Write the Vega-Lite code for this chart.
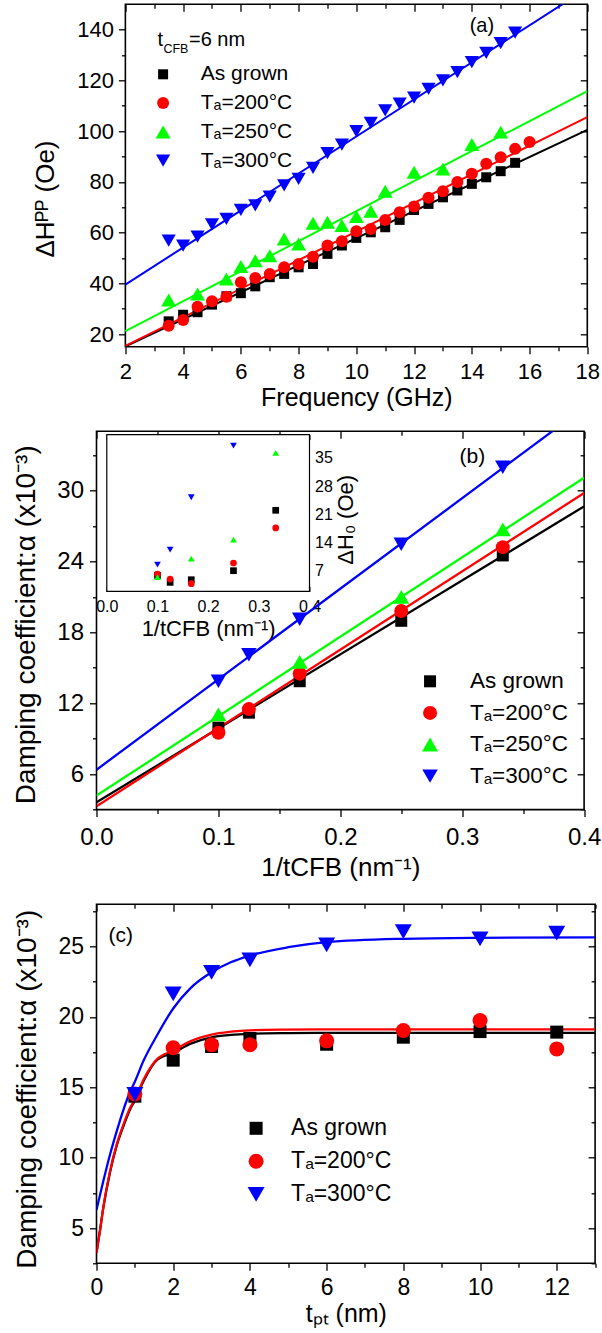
{
  "$schema": "https://vega.github.io/schema/vega-lite/v6.json",
  "padding": {"left": 11.5, "top": 3.3, "right": 0, "bottom": 0},
  "background": "white",
  "spacing": 18,
  "config": {
    "font": "Liberation Sans",
    "view": {"stroke": "black", "strokeWidth": 1.6},
    "axis": {"domain": false, "grid": false, "labelFlush": false, "labelOverlap": false, "tickColor": "black", "tickWidth": 1.3, "labelColor": "black", "titleColor": "black", "titleFontWeight": "normal", "labelFont": "Liberation Sans", "titleFont": "Liberation Sans", "zindex": 1},
    "legend": {"labelFont": "Liberation Sans", "labelColor": "black", "symbolStrokeWidth": 0, "padding": 0, "orient": "none"},
    "text": {"font": "Liberation Sans", "color": "black"}
  },
  "datasets": {
    "a_pts": [
      {"series": "As grown", "freq": 3.5, "dH": 25.0}, {"series": "As grown", "freq": 4, "dH": 27.6}, {"series": "As grown", "freq": 4.5, "dH": 28.6}, {"series": "As grown", "freq": 5, "dH": 31.6}, {"series": "As grown", "freq": 5.5, "dH": 34.9}, {"series": "As grown", "freq": 6, "dH": 36.1}, {"series": "As grown", "freq": 6.5, "dH": 38.8}, {"series": "As grown", "freq": 7, "dH": 42.4}, {"series": "As grown", "freq": 7.5, "dH": 43.7}, {"series": "As grown", "freq": 8, "dH": 46.3}, {"series": "As grown", "freq": 8.5, "dH": 47.6}, {"series": "As grown", "freq": 9, "dH": 51.6}, {"series": "As grown", "freq": 9.5, "dH": 54.9}, {"series": "As grown", "freq": 10, "dH": 57.9}, {"series": "As grown", "freq": 10.5, "dH": 60.1}, {"series": "As grown", "freq": 11, "dH": 62.1}, {"series": "As grown", "freq": 11.5, "dH": 65.0}, {"series": "As grown", "freq": 12, "dH": 68.9}, {"series": "As grown", "freq": 12.5, "dH": 71.3}, {"series": "As grown", "freq": 13, "dH": 73.9}, {"series": "As grown", "freq": 13.5, "dH": 76.6}, {"series": "As grown", "freq": 14, "dH": 79.2}, {"series": "As grown", "freq": 14.5, "dH": 81.8}, {"series": "As grown", "freq": 15, "dH": 84.2}, {"series": "As grown", "freq": 15.5, "dH": 87.5},
      {"series": "Tₐ=200°C", "freq": 3.5, "dH": 23.3}, {"series": "Tₐ=200°C", "freq": 4, "dH": 25.5}, {"series": "Tₐ=200°C", "freq": 4.5, "dH": 30.8}, {"series": "Tₐ=200°C", "freq": 5, "dH": 32.9}, {"series": "Tₐ=200°C", "freq": 5.5, "dH": 34.7}, {"series": "Tₐ=200°C", "freq": 6, "dH": 40.4}, {"series": "Tₐ=200°C", "freq": 6.5, "dH": 42.1}, {"series": "Tₐ=200°C", "freq": 7, "dH": 43.7}, {"series": "Tₐ=200°C", "freq": 7.5, "dH": 46.3}, {"series": "Tₐ=200°C", "freq": 8, "dH": 47.6}, {"series": "Tₐ=200°C", "freq": 8.5, "dH": 50.5}, {"series": "Tₐ=200°C", "freq": 9, "dH": 54.9}, {"series": "Tₐ=200°C", "freq": 9.5, "dH": 56.6}, {"series": "Tₐ=200°C", "freq": 10, "dH": 60.5}, {"series": "Tₐ=200°C", "freq": 10.5, "dH": 61.4}, {"series": "Tₐ=200°C", "freq": 11, "dH": 65.0}, {"series": "Tₐ=200°C", "freq": 11.5, "dH": 68.0}, {"series": "Tₐ=200°C", "freq": 12, "dH": 70.3}, {"series": "Tₐ=200°C", "freq": 12.5, "dH": 73.7}, {"series": "Tₐ=200°C", "freq": 13, "dH": 76.3}, {"series": "Tₐ=200°C", "freq": 13.5, "dH": 79.9}, {"series": "Tₐ=200°C", "freq": 14, "dH": 83.2}, {"series": "Tₐ=200°C", "freq": 14.5, "dH": 87.1}, {"series": "Tₐ=200°C", "freq": 15, "dH": 89.7}, {"series": "Tₐ=200°C", "freq": 15.5, "dH": 93.0}, {"series": "Tₐ=200°C", "freq": 16, "dH": 95.7},
      {"series": "Tₐ=250°C", "freq": 3.5, "dH": 33.4}, {"series": "Tₐ=250°C", "freq": 4.5, "dH": 35.8}, {"series": "Tₐ=250°C", "freq": 5.5, "dH": 41.7}, {"series": "Tₐ=250°C", "freq": 6, "dH": 46.6}, {"series": "Tₐ=250°C", "freq": 6.5, "dH": 48.9}, {"series": "Tₐ=250°C", "freq": 7, "dH": 50.9}, {"series": "Tₐ=250°C", "freq": 7.5, "dH": 57.5}, {"series": "Tₐ=250°C", "freq": 8, "dH": 55.5}, {"series": "Tₐ=250°C", "freq": 8.5, "dH": 63.7}, {"series": "Tₐ=250°C", "freq": 9, "dH": 64.1}, {"series": "Tₐ=250°C", "freq": 9.5, "dH": 62.8}, {"series": "Tₐ=250°C", "freq": 10, "dH": 66.3}, {"series": "Tₐ=250°C", "freq": 10.5, "dH": 68.4}, {"series": "Tₐ=250°C", "freq": 11, "dH": 76.3}, {"series": "Tₐ=250°C", "freq": 12, "dH": 83.8}, {"series": "Tₐ=250°C", "freq": 13, "dH": 85.1}, {"series": "Tₐ=250°C", "freq": 14, "dH": 94.7}, {"series": "Tₐ=250°C", "freq": 15, "dH": 99.6},
      {"series": "Tₐ=300°C", "freq": 3.5, "dH": 56.8}, {"series": "Tₐ=300°C", "freq": 4, "dH": 54.9}, {"series": "Tₐ=300°C", "freq": 4.5, "dH": 58.4}, {"series": "Tₐ=300°C", "freq": 5, "dH": 63.2}, {"series": "Tₐ=300°C", "freq": 5.5, "dH": 65.4}, {"series": "Tₐ=300°C", "freq": 6, "dH": 68.9}, {"series": "Tₐ=300°C", "freq": 6.5, "dH": 70.7}, {"series": "Tₐ=300°C", "freq": 7, "dH": 74.2}, {"series": "Tₐ=300°C", "freq": 7.5, "dH": 78.6}, {"series": "Tₐ=300°C", "freq": 8, "dH": 81.2}, {"series": "Tₐ=300°C", "freq": 8.5, "dH": 85.5}, {"series": "Tₐ=300°C", "freq": 9, "dH": 91.3}, {"series": "Tₐ=300°C", "freq": 9.5, "dH": 94.7}, {"series": "Tₐ=300°C", "freq": 10, "dH": 100.0}, {"series": "Tₐ=300°C", "freq": 10.5, "dH": 103.2}, {"series": "Tₐ=300°C", "freq": 11, "dH": 108.2}, {"series": "Tₐ=300°C", "freq": 11.5, "dH": 110.8}, {"series": "Tₐ=300°C", "freq": 12, "dH": 113.2}, {"series": "Tₐ=300°C", "freq": 12.5, "dH": 116.7}, {"series": "Tₐ=300°C", "freq": 13, "dH": 120.0}, {"series": "Tₐ=300°C", "freq": 13.5, "dH": 123.3}, {"series": "Tₐ=300°C", "freq": 14, "dH": 127.2}, {"series": "Tₐ=300°C", "freq": 14.5, "dH": 130.8}, {"series": "Tₐ=300°C", "freq": 15, "dH": 134.7}, {"series": "Tₐ=300°C", "freq": 15.5, "dH": 138.8}
    ],
    "a_fit": [
      {"series": "As grown", "freq": 2, "dH": 15.1}, {"series": "As grown", "freq": 18, "dH": 100.5},
      {"series": "Tₐ=200°C", "freq": 2, "dH": 15.3}, {"series": "Tₐ=200°C", "freq": 18, "dH": 105.5},
      {"series": "Tₐ=250°C", "freq": 2, "dH": 21.1}, {"series": "Tₐ=250°C", "freq": 18, "dH": 115.8},
      {"series": "Tₐ=300°C", "freq": 2, "dH": 39.5}, {"series": "Tₐ=300°C", "freq": 18, "dH": 156.3}
    ],
    "a_note": [{"base": "t", "sub": "CFB", "rest": "=6 nm", "freq": 3.11, "dH": 133.6}],
    "a_label": [{"label": "(a)", "freq": 14.35, "dH": 141.4}],
    "b_pts": [
      {"series": "As grown", "inv_t": 0.1, "alpha": 9.93}, {"series": "As grown", "inv_t": 0.125, "alpha": 11.2}, {"series": "As grown", "inv_t": 0.1667, "alpha": 13.86}, {"series": "As grown", "inv_t": 0.25, "alpha": 18.97}, {"series": "As grown", "inv_t": 0.3333, "alpha": 24.5},
      {"series": "Tₐ=200°C", "inv_t": 0.1, "alpha": 9.5}, {"series": "Tₐ=200°C", "inv_t": 0.125, "alpha": 11.5}, {"series": "Tₐ=200°C", "inv_t": 0.1667, "alpha": 14.5}, {"series": "Tₐ=200°C", "inv_t": 0.25, "alpha": 19.8}, {"series": "Tₐ=200°C", "inv_t": 0.3333, "alpha": 25.2},
      {"series": "Tₐ=250°C", "inv_t": 0.1, "alpha": 11.05}, {"series": "Tₐ=250°C", "inv_t": 0.1667, "alpha": 15.5}, {"series": "Tₐ=250°C", "inv_t": 0.25, "alpha": 21.0}, {"series": "Tₐ=250°C", "inv_t": 0.3333, "alpha": 26.7},
      {"series": "Tₐ=300°C", "inv_t": 0.1, "alpha": 13.86}, {"series": "Tₐ=300°C", "inv_t": 0.125, "alpha": 16.1}, {"series": "Tₐ=300°C", "inv_t": 0.1667, "alpha": 19.1}, {"series": "Tₐ=300°C", "inv_t": 0.25, "alpha": 25.45}, {"series": "Tₐ=300°C", "inv_t": 0.3333, "alpha": 31.96}
    ],
    "b_fit": [
      {"series": "As grown", "inv_t": 0, "alpha": 3.61}, {"series": "As grown", "inv_t": 0.4, "alpha": 28.65},
      {"series": "Tₐ=200°C", "inv_t": 0, "alpha": 3.28}, {"series": "Tₐ=200°C", "inv_t": 0.4, "alpha": 29.78},
      {"series": "Tₐ=250°C", "inv_t": 0, "alpha": 4.18}, {"series": "Tₐ=250°C", "inv_t": 0.4, "alpha": 31.07},
      {"series": "Tₐ=300°C", "inv_t": 0, "alpha": 6.37}, {"series": "Tₐ=300°C", "inv_t": 0.4, "alpha": 37.0}
    ],
    "b_inset": [
      {"series": "As grown", "inv_t": 0.1, "dH0": 5.76}, {"series": "As grown", "inv_t": 0.125, "dH0": 4.02}, {"series": "As grown", "inv_t": 0.1667, "dH0": 4.68}, {"series": "As grown", "inv_t": 0.25, "dH0": 6.93}, {"series": "As grown", "inv_t": 0.3333, "dH0": 21.96},
      {"series": "Tₐ=200°C", "inv_t": 0.1, "dH0": 6.1}, {"series": "Tₐ=200°C", "inv_t": 0.125, "dH0": 4.85}, {"series": "Tₐ=200°C", "inv_t": 0.1667, "dH0": 3.69}, {"series": "Tₐ=200°C", "inv_t": 0.25, "dH0": 8.84}, {"series": "Tₐ=200°C", "inv_t": 0.3333, "dH0": 17.56},
      {"series": "Tₐ=250°C", "inv_t": 0.1, "dH0": 5.35}, {"series": "Tₐ=250°C", "inv_t": 0.1667, "dH0": 9.92}, {"series": "Tₐ=250°C", "inv_t": 0.25, "dH0": 14.65}, {"series": "Tₐ=250°C", "inv_t": 0.3333, "dH0": 36.25},
      {"series": "Tₐ=300°C", "inv_t": 0.1, "dH0": 8.42}, {"series": "Tₐ=300°C", "inv_t": 0.125, "dH0": 12.16}, {"series": "Tₐ=300°C", "inv_t": 0.1667, "dH0": 25.2}, {"series": "Tₐ=300°C", "inv_t": 0.25, "dH0": 38.07}
    ],
    "b_label": [{"label": "(b)", "inv_t": 0.3083, "alpha": 32.82}],
    "c_pts": [
      {"series": "As grown", "t_pt": 1, "alpha": 14.37}, {"series": "As grown", "t_pt": 2, "alpha": 16.93}, {"series": "As grown", "t_pt": 3, "alpha": 17.9}, {"series": "As grown", "t_pt": 4, "alpha": 18.47}, {"series": "As grown", "t_pt": 6, "alpha": 18.06}, {"series": "As grown", "t_pt": 8, "alpha": 18.56}, {"series": "As grown", "t_pt": 10, "alpha": 18.96}, {"series": "As grown", "t_pt": 12, "alpha": 18.92},
      {"series": "Tₐ=200°C", "t_pt": 1, "alpha": 14.53}, {"series": "Tₐ=200°C", "t_pt": 2, "alpha": 17.81}, {"series": "Tₐ=200°C", "t_pt": 3, "alpha": 18.02}, {"series": "Tₐ=200°C", "t_pt": 4, "alpha": 18.02}, {"series": "Tₐ=200°C", "t_pt": 6, "alpha": 18.3}, {"series": "Tₐ=200°C", "t_pt": 8, "alpha": 19.04}, {"series": "Tₐ=200°C", "t_pt": 10, "alpha": 19.75}, {"series": "Tₐ=200°C", "t_pt": 12, "alpha": 17.73},
      {"series": "Tₐ=300°C", "t_pt": 1, "alpha": 14.5}, {"series": "Tₐ=300°C", "t_pt": 2, "alpha": 21.63}, {"series": "Tₐ=300°C", "t_pt": 3, "alpha": 23.17}, {"series": "Tₐ=300°C", "t_pt": 4, "alpha": 24.05}, {"series": "Tₐ=300°C", "t_pt": 6, "alpha": 25.12}, {"series": "Tₐ=300°C", "t_pt": 8, "alpha": 26.06}, {"series": "Tₐ=300°C", "t_pt": 10, "alpha": 25.54}, {"series": "Tₐ=300°C", "t_pt": 12, "alpha": 25.95}
    ],
    "c_fit": [
      {"series": "As grown", "t_pt": 0, "alpha": 3.3}, {"series": "As grown", "t_pt": 0.088, "alpha": 4.8}, {"series": "As grown", "t_pt": 0.175, "alpha": 6.4}, {"series": "As grown", "t_pt": 0.351, "alpha": 8.95}, {"series": "As grown", "t_pt": 0.526, "alpha": 10.85}, {"series": "As grown", "t_pt": 0.702, "alpha": 12.25}, {"series": "As grown", "t_pt": 0.877, "alpha": 13.45}, {"series": "As grown", "t_pt": 1, "alpha": 14.05}, {"series": "As grown", "t_pt": 1.228, "alpha": 15.45}, {"series": "As grown", "t_pt": 1.579, "alpha": 16.95}, {"series": "As grown", "t_pt": 2, "alpha": 17.45}, {"series": "As grown", "t_pt": 2.456, "alpha": 18.1}, {"series": "As grown", "t_pt": 3, "alpha": 18.55}, {"series": "As grown", "t_pt": 3.5, "alpha": 18.72}, {"series": "As grown", "t_pt": 4, "alpha": 18.8}, {"series": "As grown", "t_pt": 5, "alpha": 18.85}, {"series": "As grown", "t_pt": 6, "alpha": 18.87}, {"series": "As grown", "t_pt": 8, "alpha": 18.87}, {"series": "As grown", "t_pt": 13, "alpha": 18.87},
      {"series": "Tₐ=200°C", "t_pt": 0, "alpha": 3.21}, {"series": "Tₐ=200°C", "t_pt": 0.088, "alpha": 4.75}, {"series": "Tₐ=200°C", "t_pt": 0.175, "alpha": 6.42}, {"series": "Tₐ=200°C", "t_pt": 0.351, "alpha": 9.03}, {"series": "Tₐ=200°C", "t_pt": 0.526, "alpha": 10.93}, {"series": "Tₐ=200°C", "t_pt": 0.702, "alpha": 12.35}, {"series": "Tₐ=200°C", "t_pt": 0.877, "alpha": 13.54}, {"series": "Tₐ=200°C", "t_pt": 1, "alpha": 14.13}, {"series": "Tₐ=200°C", "t_pt": 1.228, "alpha": 15.55}, {"series": "Tₐ=200°C", "t_pt": 1.579, "alpha": 17.0}, {"series": "Tₐ=200°C", "t_pt": 2, "alpha": 17.6}, {"series": "Tₐ=200°C", "t_pt": 2.456, "alpha": 18.28}, {"series": "Tₐ=200°C", "t_pt": 3, "alpha": 18.75}, {"series": "Tₐ=200°C", "t_pt": 3.5, "alpha": 18.95}, {"series": "Tₐ=200°C", "t_pt": 4, "alpha": 19.05}, {"series": "Tₐ=200°C", "t_pt": 5, "alpha": 19.1}, {"series": "Tₐ=200°C", "t_pt": 6, "alpha": 19.12}, {"series": "Tₐ=200°C", "t_pt": 8, "alpha": 19.12}, {"series": "Tₐ=200°C", "t_pt": 13, "alpha": 19.12},
      {"series": "Tₐ=300°C", "t_pt": 0, "alpha": 6.3}, {"series": "Tₐ=300°C", "t_pt": 0.175, "alpha": 8.31}, {"series": "Tₐ=300°C", "t_pt": 0.351, "alpha": 10.21}, {"series": "Tₐ=300°C", "t_pt": 0.526, "alpha": 11.87}, {"series": "Tₐ=300°C", "t_pt": 0.702, "alpha": 13.4}, {"series": "Tₐ=300°C", "t_pt": 0.877, "alpha": 14.7}, {"series": "Tₐ=300°C", "t_pt": 1, "alpha": 15.4}, {"series": "Tₐ=300°C", "t_pt": 1.228, "alpha": 16.9}, {"series": "Tₐ=300°C", "t_pt": 1.579, "alpha": 18.7}, {"series": "Tₐ=300°C", "t_pt": 2, "alpha": 20.6}, {"series": "Tₐ=300°C", "t_pt": 2.452, "alpha": 22.05}, {"series": "Tₐ=300°C", "t_pt": 3, "alpha": 23.17}, {"series": "Tₐ=300°C", "t_pt": 3.5, "alpha": 23.88}, {"series": "Tₐ=300°C", "t_pt": 4, "alpha": 24.36}, {"series": "Tₐ=300°C", "t_pt": 5, "alpha": 24.95}, {"series": "Tₐ=300°C", "t_pt": 6, "alpha": 25.31}, {"series": "Tₐ=300°C", "t_pt": 8, "alpha": 25.55}, {"series": "Tₐ=300°C", "t_pt": 10, "alpha": 25.62}, {"series": "Tₐ=300°C", "t_pt": 13, "alpha": 25.65}
    ],
    "c_label": [{"label": "(c)", "t_pt": 0.634, "alpha": 25.73}]
  },
  "vconcat": [
    {
      "width": 490.8,
      "height": 342.4,
      "view": {"stroke": null},
      "layer": [
        {
          "data": {"values": [{}]},
          "mark": {"type": "rect", "fillOpacity": 0, "stroke": "black", "strokeWidth": 1.6},
          "encoding": {
            "x": {"datum": 2, "type": "quantitative", "scale": {"domain": [1, 18], "nice": false, "zero": false}, "axis": null},
            "x2": {"datum": 18},
            "y": {"datum": 15, "type": "quantitative", "scale": {"domain": [15, 150], "nice": false, "zero": false}, "axis": null},
            "y2": {"datum": 150}
          }
        },
        {
          "data": {"name": "a_fit"},
          "mark": {"type": "line", "strokeWidth": 2, "clip": true},
          "encoding": {
            "x": {"field": "freq", "type": "quantitative", "axis": {"orient": "top", "values": [2,3,4,5,6,7,8,9,10,11,12,13,14,15,16,17,18], "labels": false, "title": null, "tickSize": {"condition": {"test": "datum.value % 2 === 0", "value": -7}, "value": -4}}},
            "y": {"field": "dH", "type": "quantitative", "axis": {"orient": "right", "values": [20,30,40,50,60,70,80,90,100,110,120,130,140], "labels": false, "title": null, "tickSize": {"condition": {"test": "datum.value % 20 === 0", "value": -7}, "value": -4}}},
            "stroke": {"field": "series", "type": "nominal", "scale": {"range": ["#000000", "#ff0000", "#00ff00", "#0000ff"]}, "legend": null}
          }
        },
        {
          "data": {"name": "a_pts"},
          "mark": {"type": "point", "filled": true, "opacity": 1, "strokeWidth": 0},
          "encoding": {
            "x": {"field": "freq", "type": "quantitative", "axis": {"orient": "bottom", "values": [2,3,4,5,6,7,8,9,10,11,12,13,14,15,16,17,18], "format": "d", "labelExpr": "datum.value % 2 === 0 ? datum.label : ''", "tickSize": {"condition": {"test": "datum.value % 2 === 0", "value": 7}, "value": 4}, "labelFontSize": 22, "labelPadding": 8, "title": "Frequency (GHz)", "titleFontSize": 25, "titlePadding": 3, "titleX": 259.85}},
            "y": {"field": "dH", "type": "quantitative", "axis": {"orient": "left", "offset": -28.9, "values": [20,30,40,50,60,70,80,90,100,110,120,130,140], "format": "d", "labelExpr": "datum.value % 20 === 0 ? datum.label : ''", "tickSize": {"condition": {"test": "datum.value % 20 === 0", "value": 7}, "value": 4}, "labelFontSize": 22, "labelPadding": 5, "title": "ΔHᴾᴾ (Oe)", "titleFontSize": 26, "titlePadding": 18, "titleY": 194.2}},
            "color": {"field": "series", "type": "nominal", "scale": {"domain": ["As grown", "Tₐ=200°C", "Tₐ=250°C", "Tₐ=300°C"], "range": ["#000000", "#ff0000", "#00ff00", "#0000ff"]}, "legend": {"orient": "none", "legendX": 56.1, "legendY": 59.5, "title": null, "labelFontSize": 21, "labelOffset": 27.2, "rowPadding": 6.8, "padding": 0, "symbolStrokeWidth": 0}},
            "shape": {"field": "series", "type": "nominal", "scale": {"domain": ["As grown", "Tₐ=200°C", "Tₐ=250°C", "Tₐ=300°C"], "range": ["square", "circle", "triangle-up", "triangle-down"]}, "legend": {"orient": "none", "legendX": 56.1, "legendY": 59.5, "title": null, "labelFontSize": 21, "labelOffset": 27.2, "rowPadding": 6.8, "padding": 0, "symbolStrokeWidth": 0}},
            "size": {"field": "series", "type": "nominal", "scale": {"type": "ordinal", "domain": ["As grown", "Tₐ=200°C", "Tₐ=250°C", "Tₐ=300°C"], "range": [100, 144, 225, 200]}, "legend": {"orient": "none", "legendX": 56.1, "legendY": 59.5, "title": null, "labelFontSize": 21, "labelOffset": 27.2, "rowPadding": 6.8, "padding": 0, "symbolStrokeWidth": 0}}
          }
        },
        {
          "data": {"name": "a_label"},
          "mark": {"type": "text", "fontSize": 20, "align": "center", "baseline": "middle"},
          "encoding": {
            "x": {"field": "freq", "type": "quantitative", "axis": null},
            "y": {"field": "dH", "type": "quantitative", "axis": null},
            "text": {"field": "label"}
          }
        },
        {
          "data": {"name": "a_note"},
          "mark": {"type": "text", "fontSize": 20, "align": "left", "baseline": "alphabetic"},
          "encoding": {
            "x": {"field": "freq", "type": "quantitative", "axis": null},
            "y": {"field": "dH", "type": "quantitative", "axis": null},
            "text": {"field": "base"}
          }
        },
        {
          "data": {"name": "a_note"},
          "mark": {"type": "text", "fontSize": 12.5, "align": "left", "baseline": "alphabetic", "dx": 6, "dy": 7.3},
          "encoding": {
            "x": {"field": "freq", "type": "quantitative", "axis": null},
            "y": {"field": "dH", "type": "quantitative", "axis": null},
            "text": {"field": "sub"}
          }
        },
        {
          "data": {"name": "a_note"},
          "mark": {"type": "text", "fontSize": 20, "align": "left", "baseline": "alphabetic", "dx": 31.6},
          "encoding": {
            "x": {"field": "freq", "type": "quantitative", "axis": null},
            "y": {"field": "dH", "type": "quantitative", "axis": null},
            "text": {"field": "rest"}
          }
        }
      ],
      "resolve": {"axis": {"x": "independent", "y": "independent"}}
    },
    {
      "width": 487.6,
      "height": 378.3,
      "layer": [
        {
          "layer": [
            {
              "data": {"name": "b_fit"},
              "mark": {"type": "line", "strokeWidth": 2.3, "clip": true},
              "encoding": {
                "x": {"field": "inv_t", "type": "quantitative", "scale": {"domain": [0, 0.4], "nice": false, "zero": false}, "axis": {"orient": "top", "values": [0, 0.05, 0.1, 0.15, 0.2, 0.25, 0.3, 0.35, 0.4], "labels": false, "title": null, "tickSize": {"condition": {"test": "round(datum.value * 20) % 2 === 0", "value": -7}, "value": -4}}},
                "y": {"field": "alpha", "type": "quantitative", "scale": {"domain": [3, 35], "nice": false, "zero": false}, "axis": {"orient": "right", "values": [3, 6, 9, 12, 15, 18, 21, 24, 27, 30, 33], "labels": false, "title": null, "tickSize": {"condition": {"test": "datum.value % 6 === 0", "value": -7}, "value": -4}}},
                "stroke": {"field": "series", "type": "nominal", "scale": {"range": ["#000000", "#ff0000", "#00ff00", "#0000ff"]}, "legend": null}
              }
            },
            {
              "data": {"name": "b_pts"},
              "mark": {"type": "point", "filled": true, "opacity": 1, "strokeWidth": 0},
              "encoding": {
                "x": {"field": "inv_t", "type": "quantitative", "axis": {"orient": "bottom", "values": [0, 0.05, 0.1, 0.15, 0.2, 0.25, 0.3, 0.35, 0.4], "format": ".1f", "labelExpr": "round(datum.value * 20) % 2 === 0 ? datum.label : ''", "tickSize": {"condition": {"test": "round(datum.value * 20) % 2 === 0", "value": 7}, "value": 4}, "labelFontSize": 24, "labelPadding": 8.5, "title": "1/tCFB (nm⁻¹)", "titleFontSize": 26, "titlePadding": 5}},
                "y": {"field": "alpha", "type": "quantitative", "axis": {"orient": "left", "values": [3, 6, 9, 12, 15, 18, 21, 24, 27, 30, 33], "format": "d", "labelExpr": "datum.value % 6 === 0 ? datum.label : ''", "tickSize": {"condition": {"test": "datum.value % 6 === 0", "value": 7}, "value": 4}, "labelFontSize": 24, "labelPadding": 6, "title": "Damping coefficient:α (x10⁻³)", "titleFontSize": 28, "titlePadding": 16, "titleY": 193}},
                "color": {"field": "series", "type": "nominal", "scale": {"domain": ["As grown", "Tₐ=200°C", "Tₐ=250°C", "Tₐ=300°C"], "range": ["#000000", "#ff0000", "#00ff00", "#0000ff"]}, "legend": {"orient": "none", "legendX": 322.3, "legendY": 238.75, "title": null, "labelFontSize": 22.5, "labelOffset": 28.7, "rowPadding": 8.6, "padding": 0, "symbolStrokeWidth": 0}},
                "shape": {"field": "series", "type": "nominal", "scale": {"domain": ["As grown", "Tₐ=200°C", "Tₐ=250°C", "Tₐ=300°C"], "range": ["square", "circle", "triangle-up", "triangle-down"]}, "legend": {"orient": "none", "legendX": 322.3, "legendY": 238.75, "title": null, "labelFontSize": 22.5, "labelOffset": 28.7, "rowPadding": 8.6, "padding": 0, "symbolStrokeWidth": 0}},
                "size": {"field": "series", "type": "nominal", "scale": {"type": "ordinal", "domain": ["As grown", "Tₐ=200°C", "Tₐ=250°C", "Tₐ=300°C"], "range": [144, 196, 256, 240]}, "legend": {"orient": "none", "legendX": 322.3, "legendY": 238.75, "title": null, "labelFontSize": 22.5, "labelOffset": 28.7, "rowPadding": 8.6, "padding": 0, "symbolStrokeWidth": 0}}
              }
            },
            {
              "data": {"name": "b_label"},
              "mark": {"type": "text", "fontSize": 21, "align": "center", "baseline": "middle"},
              "encoding": {
                "x": {"field": "inv_t", "type": "quantitative", "axis": null},
                "y": {"field": "alpha", "type": "quantitative", "axis": null},
                "text": {"field": "label"}
              }
            }
          ],
          "resolve": {"axis": {"x": "independent", "y": "independent"}}
        },
        {
          "layer": [
            {
              "data": {"values": [{}]},
              "mark": {"type": "rect", "fill": "white", "stroke": "black", "strokeWidth": 1.2},
              "encoding": {
                "x": {"datum": 0, "type": "quantitative", "scale": {"domain": [0, 0.4], "range": [10.3, 213], "nice": false, "zero": false}, "axis": {"orient": "top", "offset": -3.3, "values": [0, 0.05, 0.1, 0.15, 0.2, 0.25, 0.3, 0.35, 0.4], "labels": false, "title": null, "tickSize": {"condition": {"test": "round(datum.value * 20) % 2 === 0", "value": -5}, "value": -3}, "tickWidth": 1}},
                "x2": {"datum": 0.4},
                "y": {"datum": 1.8, "type": "quantitative", "scale": {"domain": [1.8, 40.8], "range": [160, 3.3], "nice": false, "zero": false}, "axis": {"orient": "left", "offset": -10.3, "values": [3.5, 7, 10.5, 14, 17.5, 21, 24.5, 28, 31.5, 35, 38.5], "labels": false, "title": null, "tickSize": {"condition": {"test": "datum.value % 7 === 0", "value": -5}, "value": -3}, "tickWidth": 1}},
                "y2": {"datum": 40.8}
              }
            },
            {
              "data": {"name": "b_inset"},
              "mark": {"type": "point", "filled": true, "opacity": 1, "strokeWidth": 0, "size": 45},
              "encoding": {
                "x": {"field": "inv_t", "type": "quantitative", "axis": {"orient": "bottom", "offset": -218.3, "values": [0, 0.05, 0.1, 0.15, 0.2, 0.25, 0.3, 0.35, 0.4], "format": ".1f", "labelExpr": "round(datum.value * 20) % 2 === 0 ? datum.label : ''", "tickSize": {"condition": {"test": "round(datum.value * 20) % 2 === 0", "value": -5}, "value": -3}, "tickWidth": 1, "labelFontSize": 16, "labelPadding": 12, "title": "1/tCFB (nm⁻¹)", "titleFontSize": 22, "titlePadding": 2}},
                "y": {"field": "dH0", "type": "quantitative", "axis": {"orient": "right", "offset": -274.6, "values": [3.5, 7, 10.5, 14, 17.5, 21, 24.5, 28, 31.5, 35, 38.5], "format": "d", "labelExpr": "datum.value % 7 === 0 ? datum.label : ''", "tickSize": {"condition": {"test": "datum.value % 7 === 0", "value": -5}, "value": -3}, "tickWidth": 1, "labelFontSize": 16, "labelPadding": 10, "title": "ΔH₀ (Oe)", "titleFontSize": 22, "titleAngle": 270, "titleBaseline": "top", "titlePadding": 3, "titleY": 88}},
                "fill": {"field": "series", "type": "nominal", "scale": {"range": ["#000000", "#ff0000", "#00ff00", "#0000ff"]}, "legend": null},
                "shape": {"field": "series", "type": "nominal"}
              }
            }
          ],
          "resolve": {"axis": {"x": "independent", "y": "independent"}}
        }
      ],
      "resolve": {"scale": {"x": "independent", "y": "independent"}, "axis": {"x": "independent", "y": "independent"}}
    },
    {
      "width": 498.6,
      "height": 359,
      "layer": [
        {
          "data": {"name": "c_fit"},
          "mark": {"type": "line", "strokeWidth": 2.3, "clip": true, "interpolate": "monotone"},
          "encoding": {
            "x": {"field": "t_pt", "type": "quantitative", "scale": {"domain": [0, 13], "nice": false, "zero": false}, "axis": {"orient": "top", "values": [0,1,2,3,4,5,6,7,8,9,10,11,12,13], "labels": false, "title": null, "tickSize": {"condition": {"test": "datum.value % 2 === 0", "value": -7}, "value": -4}}},
            "y": {"field": "alpha", "type": "quantitative", "scale": {"domain": [2.5, 28], "nice": false, "zero": false}, "axis": {"orient": "right", "values": [2.5, 5, 7.5, 10, 12.5, 15, 17.5, 20, 22.5, 25, 27.5], "labels": false, "title": null, "tickSize": {"condition": {"test": "datum.value % 5 === 0", "value": -7}, "value": -4}}},
            "stroke": {"field": "series", "type": "nominal", "scale": {"range": ["#000000", "#ff0000", "#0000ff"]}, "legend": null}
          }
        },
        {
          "data": {"name": "c_pts"},
          "mark": {"type": "point", "filled": true, "opacity": 1, "strokeWidth": 0},
          "encoding": {
            "x": {"field": "t_pt", "type": "quantitative", "axis": {"orient": "bottom", "values": [0,1,2,3,4,5,6,7,8,9,10,11,12,13], "format": "d", "labelExpr": "datum.value % 2 === 0 ? datum.label : ''", "tickSize": {"condition": {"test": "datum.value % 2 === 0", "value": 7}, "value": 4}, "labelFontSize": 23, "labelPadding": 6.5, "title": "tₚₜ (nm)", "titleFontSize": 25, "titlePadding": 2}},
            "y": {"field": "alpha", "type": "quantitative", "axis": {"orient": "left", "values": [2.5, 5, 7.5, 10, 12.5, 15, 17.5, 20, 22.5, 25, 27.5], "format": "d", "labelExpr": "datum.value % 5 === 0 ? datum.label : ''", "tickSize": {"condition": {"test": "datum.value % 5 === 0", "value": 7}, "value": 4}, "labelFontSize": 23, "labelPadding": 6, "title": "Damping coefficient:α (x10⁻³)", "titleFontSize": 28, "titlePadding": 16, "titleY": 184.5}},
            "color": {"field": "series", "type": "nominal", "scale": {"domain": ["As grown", "Tₐ=200°C", "Tₐ=300°C"], "range": ["#000000", "#ff0000", "#0000ff"]}, "legend": {"orient": "none", "legendX": 148.1, "legendY": 212.5, "title": null, "labelFontSize": 23, "labelOffset": 23.5, "rowPadding": 9, "padding": 0, "symbolStrokeWidth": 0}},
            "shape": {"field": "series", "type": "nominal", "scale": {"domain": ["As grown", "Tₐ=200°C", "Tₐ=300°C"], "range": ["square", "circle", "triangle-down"]}, "legend": {"orient": "none", "legendX": 148.1, "legendY": 212.5, "title": null, "labelFontSize": 23, "labelOffset": 23.5, "rowPadding": 9, "padding": 0, "symbolStrokeWidth": 0}},
            "size": {"field": "series", "type": "nominal", "scale": {"type": "ordinal", "domain": ["As grown", "Tₐ=200°C", "Tₐ=300°C"], "range": [169, 225, 289]}, "legend": {"orient": "none", "legendX": 148.1, "legendY": 212.5, "title": null, "labelFontSize": 23, "labelOffset": 23.5, "rowPadding": 9, "padding": 0, "symbolStrokeWidth": 0}}
          }
        },
        {
          "data": {"name": "c_label"},
          "mark": {"type": "text", "fontSize": 21, "align": "center", "baseline": "middle"},
          "encoding": {
            "x": {"field": "t_pt", "type": "quantitative", "axis": null},
            "y": {"field": "alpha", "type": "quantitative", "axis": null},
            "text": {"field": "label"}
          }
        }
      ],
      "resolve": {"axis": {"x": "independent", "y": "independent"}}
    }
  ],
  "resolve": {"scale": {"color": "independent", "shape": "independent", "size": "independent", "stroke": "independent", "fill": "independent"}, "legend": {"color": "independent", "shape": "independent", "size": "independent"}}
}
